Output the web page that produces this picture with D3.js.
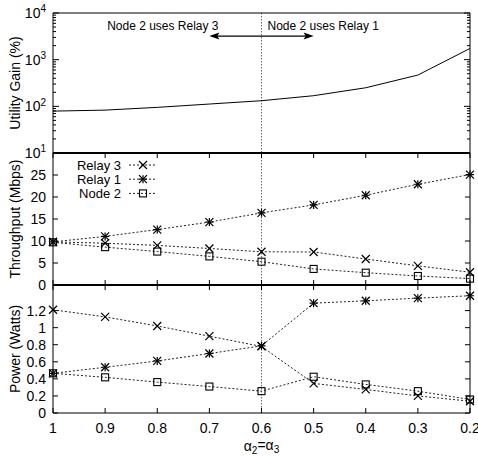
<!DOCTYPE html>
<html><head><meta charset="utf-8">
<script src="https://cdn.jsdelivr.net/npm/d3@7"></script>
<style>
body{margin:0;background:#fff;}
svg{display:block;font-family:"Liberation Sans",Arial,sans-serif;}
</style></head>
<body><svg id="c" width="478" height="456"></svg>
<script>
const alphas = [1, 0.9, 0.8, 0.7, 0.6, 0.5, 0.4, 0.3, 0.2];
const xTickLabels = ["1","0.9","0.8","0.7","0.6","0.5","0.4","0.3","0.2"];
const utilityGain = [79, 83, 95, 112, 132, 169, 250, 468, 1740];
const thrRelay3 = [9.8, 9.5, 9.0, 8.3, 7.55, 7.5, 5.9, 4.35, 2.9];
const thrRelay1 = [9.8, 11.05, 12.6, 14.3, 16.4, 18.2, 20.4, 22.9, 25.1];
const thrNode2  = [9.7, 8.6, 7.6, 6.5, 5.3, 3.65, 2.8, 2.05, 1.45];
const pwrRelay3 = [1.21, 1.126, 1.02, 0.90, 0.78, 0.347, 0.276, 0.20, 0.138];
const pwrRelay1 = [0.465, 0.536, 0.61, 0.697, 0.787, 1.287, 1.315, 1.346, 1.374];
const pwrNode2  = [0.465, 0.418, 0.362, 0.31, 0.256, 0.425, 0.335, 0.256, 0.158];
const gainTicks = [1, 2, 3, 4];      // exponents of 10
const thrTicks = [0, 5, 10, 15, 20, 25];
const pwrTicks = [0, 0.2, 0.4, 0.6, 0.8, 1, 1.2];
const seriesNames = ["Relay 3", "Relay 1", "Node 2"];
const switchPoint = 0.6;

const svg = d3.select("#c");
const L = 53, R = 470;
const x = d3.scaleLinear().domain([1, 0.2]).range([L, R]);
const yTop = d3.scaleLog().domain([10, 10000]).range([153, 13]);
const yMid = d3.scaleLinear().domain([0, 30]).range([285, 153]);
const yBot = d3.scaleLinear().domain([0, 1.5]).range([413, 285]);
const FS = 14;

function frame(y, thickTop, thickBottom){
  const [b, t] = y.range();
  svg.append("line").attr("x1",L).attr("x2",L).attr("y1",t).attr("y2",b).attr("stroke","#000").attr("stroke-width",1);
  svg.append("line").attr("x1",R).attr("x2",R).attr("y1",t).attr("y2",b).attr("stroke","#000").attr("stroke-width",1);
  svg.append("line").attr("x1",L).attr("x2",R).attr("y1",t).attr("y2",t).attr("stroke","#000").attr("stroke-width",thickTop);
  svg.append("line").attr("x1",L).attr("x2",R).attr("y1",b).attr("y2",b).attr("stroke","#000").attr("stroke-width",thickBottom);
}
function yTicksLinear(y, ticks, fmt){
  const g = svg.append("g");
  ticks.forEach(v=>{
    const yy = y(v);
    g.append("line").attr("x1",L).attr("x2",L+5).attr("y1",yy).attr("y2",yy).attr("stroke","#000");
    g.append("line").attr("x1",R).attr("x2",R-5).attr("y1",yy).attr("y2",yy).attr("stroke","#000");
    g.append("text").attr("x",L-7).attr("y",yy).attr("dy","0.35em").attr("text-anchor","end")
      .attr("font-size",FS).text(fmt(v));
  });
}
function xTicks(y){
  const [b, t] = y.range();
  alphas.forEach(a=>{
    const xx = x(a);
    svg.append("line").attr("x1",xx).attr("x2",xx).attr("y1",b).attr("y2",b-5).attr("stroke","#000");
    svg.append("line").attr("x1",xx).attr("x2",xx).attr("y1",t).attr("y2",t+5).attr("stroke","#000");
  });
}
function marker(g, type, cx, cy){
  const s = 4;
  if(type===0 || type===1){
    g.append("path").attr("d",`M${cx-s},${cy-s}L${cx+s},${cy+s}M${cx-s},${cy+s}L${cx+s},${cy-s}`)
      .attr("stroke","#000").attr("stroke-width",1.2).attr("fill","none");
  }
  if(type===1){
    g.append("path").attr("d",`M${cx-s},${cy}L${cx+s},${cy}M${cx},${cy-s}L${cx},${cy+s}`)
      .attr("stroke","#000").attr("stroke-width",1.2).attr("fill","none");
  }
  if(type===2){
    g.append("rect").attr("x",cx-3.5).attr("y",cy-3.5).attr("width",7).attr("height",7)
      .attr("stroke","#000").attr("stroke-width",1.1).attr("fill","none");
  }
}
function series(y, vals, type){
  const g = svg.append("g");
  const line = d3.line().x((d,i)=>x(alphas[i])).y(d=>y(d));
  g.append("path").attr("d", line(vals)).attr("fill","none").attr("stroke","#222")
    .attr("stroke-width",1).attr("stroke-dasharray","2,2");
  vals.forEach((v,i)=>marker(g, type, x(alphas[i]), y(v)));
}

// vertical switch line
svg.append("line").attr("x1",x(switchPoint)).attr("x2",x(switchPoint)).attr("y1",13).attr("y2",413)
  .attr("stroke","#444").attr("stroke-width",0.8).attr("stroke-dasharray","1.5,1.5");

// ---- Top panel ----
frame(yTop, 1, 2);
gainTicks.forEach(e=>{
  const yy = yTop(Math.pow(10,e));
  svg.append("line").attr("x1",L).attr("x2",L+6).attr("y1",yy).attr("y2",yy).attr("stroke","#000");
  svg.append("line").attr("x1",R).attr("x2",R-6).attr("y1",yy).attr("y2",yy).attr("stroke","#000");
  const t = svg.append("text").attr("x",L-7).attr("y",yy).attr("dy","0.35em").attr("text-anchor","end").attr("font-size",FS);
  t.append("tspan").text("10");
  t.append("tspan").attr("font-size",10).attr("dy","-0.55em").text(e);
  if(e<4){
    for(let m=2;m<=9;m++){
      const ym = yTop(m*Math.pow(10,e));
      svg.append("line").attr("x1",L).attr("x2",L+3).attr("y1",ym).attr("y2",ym).attr("stroke","#000");
      svg.append("line").attr("x1",R).attr("x2",R-3).attr("y1",ym).attr("y2",ym).attr("stroke","#000");
    }
  }
});
svg.append("path").attr("d", d3.line().x((d,i)=>x(alphas[i])).y(d=>yTop(d))(utilityGain))
  .attr("fill","none").attr("stroke","#000").attr("stroke-width",1);
svg.append("text").attr("x",15).attr("y",(13+153)/2).attr("text-anchor","middle").attr("dy","0.35em")
  .attr("font-size",FS).attr("transform",`rotate(-90,15,${(13+153)/2})`).text("Utility Gain (%)");
// annotation
const ay = yTop(3200);
svg.append("text").attr("x",x(0.9)+2).attr("y",30).attr("font-size",12).text("Node 2 uses Relay 3");
svg.append("text").attr("x",x(0.6)+6).attr("y",30).attr("font-size",12).text("Node 2 uses Relay 1");
const ax1 = x(0.7), ax2 = x(0.5);
svg.append("line").attr("x1",ax1+6).attr("x2",ax2-6).attr("y1",ay).attr("y2",ay).attr("stroke","#000").attr("stroke-width",1.2);
svg.append("path").attr("d",`M${ax1},${ay}L${ax1+10},${ay-3.5}L${ax1+8},${ay}L${ax1+10},${ay+3.5}Z`).attr("fill","#000");
svg.append("path").attr("d",`M${ax2},${ay}L${ax2-10},${ay-3.5}L${ax2-8},${ay}L${ax2-10},${ay+3.5}Z`).attr("fill","#000");

// ---- Middle panel ----
frame(yMid, 2, 2);
xTicks(yMid);
yTicksLinear(yMid, thrTicks, d=>String(d));
series(yMid, thrRelay3, 0);
series(yMid, thrRelay1, 1);
series(yMid, thrNode2, 2);
svg.append("text").attr("x",15).attr("y",(153+285)/2).attr("text-anchor","middle").attr("dy","0.35em")
  .attr("font-size",FS).attr("transform",`rotate(-90,15,${(153+285)/2})`).text("Throughput (Mbps)");
// legend
seriesNames.forEach((n,i)=>{
  const ly = 165 + i*14.2;
  svg.append("text").attr("x",121).attr("y",ly).attr("dy","0.35em").attr("text-anchor","end").attr("font-size",13).text(n);
  svg.append("line").attr("x1",129).attr("x2",156).attr("y1",ly).attr("y2",ly).attr("stroke","#222").attr("stroke-dasharray","2,2");
  marker(svg, i, 143, ly);
});

// ---- Bottom panel ----
frame(yBot, 2, 1);
xTicks(yBot);
yTicksLinear(yBot, pwrTicks, d=>d3.format("~g")(d));
series(yBot, pwrRelay3, 0);
series(yBot, pwrRelay1, 1);
series(yBot, pwrNode2, 2);
svg.append("text").attr("x",15).attr("y",(285+413)/2).attr("text-anchor","middle").attr("dy","0.35em")
  .attr("font-size",FS).attr("transform",`rotate(-90,15,${(285+413)/2})`).text("Power (Watts)");

// x tick labels
alphas.forEach((a,i)=>{
  svg.append("text").attr("x",x(a)).attr("y",433).attr("text-anchor","middle").attr("font-size",FS).text(xTickLabels[i]);
});
// x label
const xl = svg.append("text").attr("x",x(0.6)).attr("y",451).attr("text-anchor","middle").attr("font-size",FS);
xl.append("tspan").text("α");
xl.append("tspan").attr("font-size",10).attr("dy","0.3em").text("2");
xl.append("tspan").attr("dy","-0.3em").text("=α");
xl.append("tspan").attr("font-size",10).attr("dy","0.3em").text("3");
</script></body></html>
